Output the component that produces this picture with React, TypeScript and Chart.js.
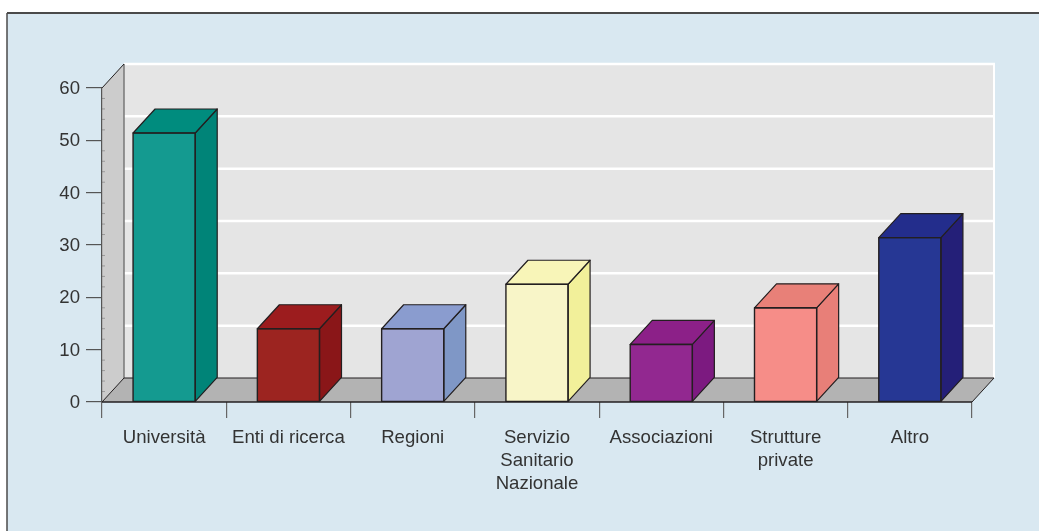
import React, { useEffect, useRef } from "react";
import { Chart, registerables } from "chart.js";

Chart.register(...registerables);

const categories = [
  "Università",
  "Enti di ricerca",
  "Regioni",
  ["Servizio", "Sanitario", "Nazionale"],
  "Associazioni",
  ["Strutture", "private"],
  "Altro",
];
const values = [51.4, 14, 14, 22.5, 11, 18, 31.4];
const yTicks = [0, 10, 20, 30, 40, 50, 60];
const yMinorTicks = [2, 4, 6, 8, 12, 14, 16, 18, 22, 24, 26, 28, 32, 34, 36, 38, 42, 44, 46, 48, 52, 54, 56, 58];

const frontColors = ["#149a90", "#9c2420", "#9fa4d2", "#f8f5c8", "#922890", "#f68d88", "#263794"];
const sideColors = ["#008478", "#8a1618", "#7f97c6", "#f2f09a", "#7c1a80", "#e87f78", "#241f78"];
const topColors = ["#008c7e", "#9c1c1e", "#8a9ccf", "#f8f5b8", "#8c2088", "#e88078", "#232d8c"];

const DX = 22;
const DY = 24;
const INK = "#231f20";
const TEXT = "#333333";

function poly(ctx: CanvasRenderingContext2D, pts: number[][], fill: string | null, stroke: string | null, lw = 1) {
  ctx.beginPath();
  pts.forEach((p, i) => (i ? ctx.lineTo(p[0], p[1]) : ctx.moveTo(p[0], p[1])));
  ctx.closePath();
  if (fill) {
    ctx.fillStyle = fill;
    ctx.fill();
  }
  if (stroke) {
    ctx.strokeStyle = stroke;
    ctx.lineWidth = lw;
    ctx.lineJoin = "round";
    ctx.stroke();
  }
}

function seg(ctx: CanvasRenderingContext2D, x1: number, y1: number, x2: number, y2: number, color: string, lw: number) {
  ctx.beginPath();
  ctx.moveTo(x1, y1);
  ctx.lineTo(x2, y2);
  ctx.strokeStyle = color;
  ctx.lineWidth = lw;
  ctx.stroke();
}

const stagePlugin = {
  id: "stage",
  beforeDraw(chart: any) {
    const { ctx, chartArea: a, scales } = chart;
    const { left: l, right: r, top: t, bottom: b } = a;
    ctx.save();
    ctx.fillStyle = "#ffffff";
    ctx.fillRect(0, 0, chart.width, chart.height);
    ctx.fillStyle = "#d9e8f1";
    ctx.fillRect(7, 13, chart.width - 7, chart.height - 13);
    seg(ctx, 7, 13, chart.width, 13, "#4a4a4a", 1.8);
    seg(ctx, 7, 13, 7, chart.height, "#4a4a4a", 1.5);

    // back wall
    ctx.fillStyle = "#e5e5e5";
    ctx.fillRect(l + DX, t - DY, r - l, b - t);
    // grid lines on the back wall
    yTicks.forEach((v) => {
      if (v === 0) return;
      const y = scales.y.getPixelForValue(v) - DY;
      seg(ctx, l + DX, y, r + DX + 1, y, "#ffffff", 2.5);
    });
    seg(ctx, r + DX, t - DY, r + DX, b - DY, "#ffffff", 2);
    // left wall
    poly(ctx, [[l, t], [l + DX, t - DY], [l + DX, b - DY], [l, b]], "#cccccc", null);
    seg(ctx, l + DX, t - DY, l + DX, b - DY, "#777777", 1.5);
    seg(ctx, l, t, l + DX, t - DY, INK, 1);
    // minor ticks on the value axis
    yMinorTicks.forEach((v) => {
      const y = scales.y.getPixelForValue(v);
      seg(ctx, l, y, l + 3, y, "#9a9a9a", 1);
    });
    // floor
    poly(ctx, [[l, b], [l + DX, b - DY], [r + DX, b - DY], [r, b]], "#b3b3b3", null);
    seg(ctx, l, b, l + DX, b - DY, INK, 1);
    seg(ctx, l + DX, b - DY, r + DX, b - DY, INK, 1.2);
    seg(ctx, r, b, r + DX, b - DY, INK, 1);
    ctx.restore();
  },
  afterDatasetsDraw(chart: any) {
    const { ctx } = chart;
    ctx.save();
    chart.getDatasetMeta(0).data.forEach((bar: any, i: number) => {
      const w = bar.width;
      const x0 = bar.x - w / 2;
      const x1 = bar.x + w / 2;
      const yT = bar.y;
      const yB = bar.base;
      poly(ctx, [[x1, yT], [x1 + DX, yT - DY], [x1 + DX, yB - DY], [x1, yB]], sideColors[i], INK, 1.2);
      poly(ctx, [[x0, yT], [x0 + DX, yT - DY], [x1 + DX, yT - DY], [x1, yT]], topColors[i], INK, 1.2);
      poly(ctx, [[x0, yT], [x1, yT], [x1, yB], [x0, yB]], null, INK, 1.4);
    });
    const a = chart.chartArea;
    seg(ctx, a.left, a.bottom, a.right, a.bottom, INK, 1.4);
    ctx.restore();
  },
};

export default function App() {
  const ref = useRef<HTMLCanvasElement>(null);
  useEffect(() => {
    const chart = new Chart(ref.current!, {
      type: "bar",
      data: {
        labels: categories as any,
        datasets: [
          {
            data: values,
            backgroundColor: frontColors,
            borderWidth: 0,
            barPercentage: 0.5,
            categoryPercentage: 1,
          },
        ],
      },
      plugins: [stagePlugin],
      options: {
        animation: false,
        responsive: false,
        devicePixelRatio: 1,
        layout: { padding: { left: 0, right: 67, top: 88, bottom: 0 } },
        plugins: { legend: { display: false }, tooltip: { enabled: false }, title: { display: false } },
        scales: {
          x: {
            afterFit: (s: any) => {
              s.height = 129;
            },
            grid: { display: true, drawOnChartArea: false, drawTicks: true, tickLength: 16, color: "#666666", lineWidth: 1.2 },
            border: { display: false },
            ticks: {
              color: TEXT,
              font: { family: "Liberation Sans", size: 18.6, lineHeight: 1.24 },
              padding: 8,
              maxRotation: 0,
              autoSkip: false,
            },
          },
          y: {
            min: 0,
            max: 60,
            afterFit: (s: any) => {
              s.width = 102;
            },
            grid: { display: true, drawOnChartArea: false, drawTicks: true, tickLength: 16, color: "#555555", lineWidth: 1.2 },
            border: { display: true, color: "#555555", width: 1.2 },
            ticks: {
              stepSize: 10,
              color: TEXT,
              font: { family: "Liberation Sans", size: 18.6 },
              padding: 6,
              labelOffset: 1,
            },
          },
        },
      },
    } as any);
    return () => chart.destroy();
  }, []);
  return <canvas ref={ref} width={1039} height={531} style={{ position: "absolute", left: 0, top: 0 }} />;
}
